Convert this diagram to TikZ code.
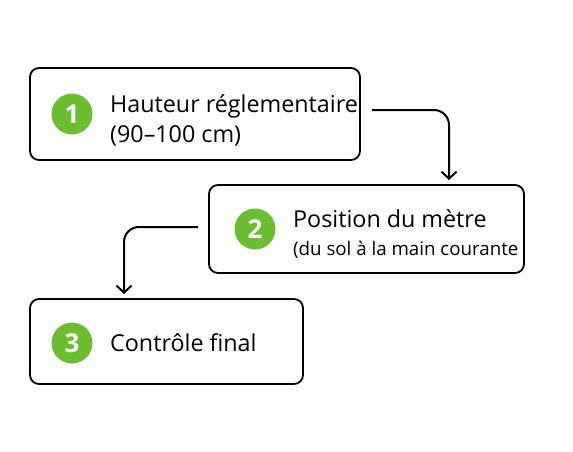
\documentclass[tikz,border=0pt]{standalone}
\usepackage{fontspec}
\setmainfont{Open Sans}
\usetikzlibrary{arrows.meta}
\definecolor{stepgreen}{HTML}{6CBE30}
\begin{document}
\begin{tikzpicture}[x=1pt,y=-1pt,
  box/.style={draw=black,line width=1.8pt,rounded corners=9pt,fill=white},
  num/.style={circle,fill=stepgreen,text=white,minimum size=41pt,inner sep=0pt,font=\fontsize{26}{26}\selectfont\bfseries},
  main/.style={anchor=base west,inner sep=0pt,font=\fontsize{23.3}{25}\selectfont},
  sub/.style={anchor=base west,inner sep=0pt,font=\fontsize{18.7}{20}\selectfont},
  conn/.style={line width=2pt,rounded corners=15pt,-{Straight Barb[length=7pt,width=15pt,line width=2pt]}}]
\useasboundingbox (0,0) rectangle (573,452);
\draw[box] (30,68) rectangle (360,160);
\draw[box] (209,185) rectangle (524,273);
\draw[box] (30,299) rectangle (303,384);
\node[num] (n1) at (72,114) {1};
\node[num] (n2) at (255,229) {2};
\node[num] (n3) at (72,343) {3};
\node[main] (t1a) at (110,112) {Hauteur réglementaire};
\node[main] (t1b) at (110,142) {(90–100 cm)};
\node[main] (t2a) at (293,227) {Position du mètre};
\node[sub] (t2b) at (293,255) {(du sol à la main courante};
\node[main] (t3) at (110,351) {Contrôle final};
\coordinate (a1s) at (372,110);
\coordinate (a1e) at (449,180);
\coordinate (a2s) at (198,227);
\coordinate (a2e) at (124,294);
\draw[conn] (a1s) -| (a1e);
\draw[conn] (a2s) -| (a2e);
\end{tikzpicture}
\end{document}
